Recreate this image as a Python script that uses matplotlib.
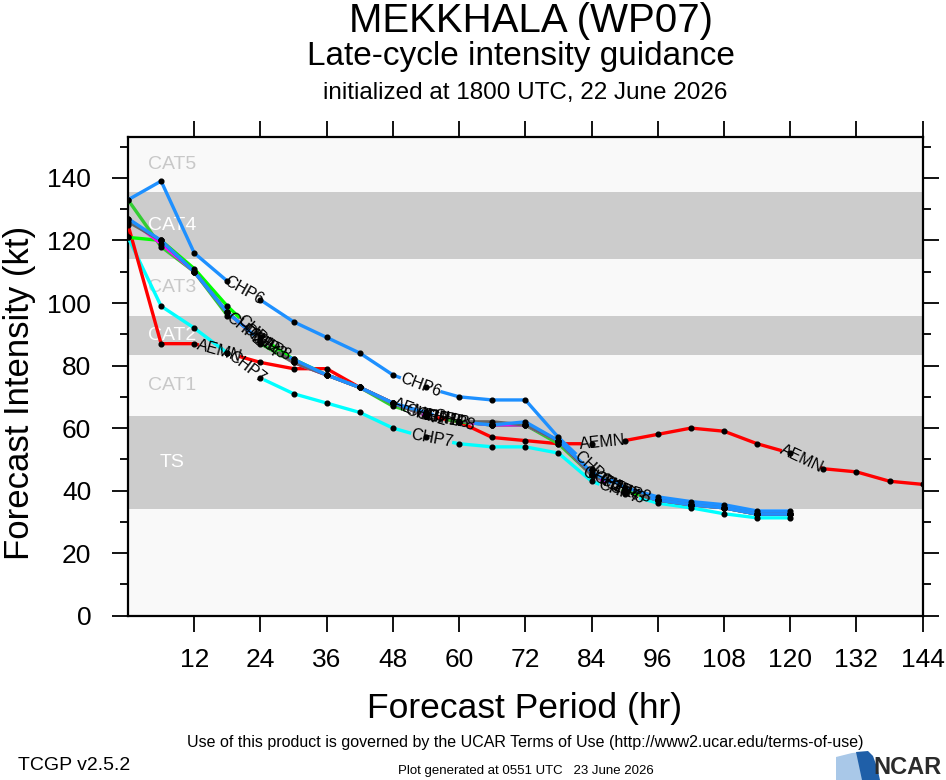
import numpy as np
import matplotlib
matplotlib.use("Agg")
import matplotlib.pyplot as plt
from matplotlib.patches import Polygon

plt.rcParams['font.family'] = ['Liberation Sans', 'DejaVu Sans']

# forecast hours
hours = [0, 6, 12, 18, 24, 30, 36, 42, 48, 54, 60, 66, 72, 78, 84, 90, 96, 102, 108, 114, 120]
hours_aemn = hours + [126, 132, 138, 144]

# intensities (kt)
chp1 = [121, 120, 111, 99, 89, 82, 77, 73, 68, 64, 62, 61, 61, 56, 45, 40, 37, 35.5, 34.5, 32.5, 32.5]
chp2 = [133, 118, 110, 96, 87, 81, 77, 73, 67, 64, 62, 61, 61, 55, 45, 40, 37, 35.5, 34.5, 32.5, 32.5]
chp3 = [127, 119, 110, 97, 88, 81, 77, 73, 68, 64, 62, 61, 61, 56, 45, 40, 37, 35.5, 34.5, 32.5, 32.5]
chp4 = [126, 120, 110, 97, 88, 81, 77, 73, 68, 64, 62, 62, 61, 56, 45, 40, 37, 35.5, 34.5, 32.5, 32.5]
chp8 = [127, 120, 110, 97, 88, 82, 77, 73, 68, 65, 62, 61, 62, 56, 46, 40, 37, 35.5, 34.5, 32.5, 32.5]
chp6 = [133, 139, 116, 107, 101, 94, 89, 84, 77, 73, 70, 69, 69, 57, 47, 41, 38, 36.5, 35.5, 33.5, 33.5]
chp7 = [121, 99, 92, 84, 76, 71, 68, 65, 60, 57, 55, 54, 54, 52, 43, 39, 36, 34.5, 32.6, 31.3, 31.3]
aemn = [125, 87, 87, 84, 81, 79, 79, 73, 68, 64, 62, 57, 56, 55, 55, 56, 58, 60, 59,
        55, 52, 47, 46, 43, 42]

# (name, hours, values, colour, hours where the name is written on the line)
models = [
    ("CHP7", hours, chp7, "#00ffff", [21.5, 55, 89]),
    ("AEMN", hours_aemn, aemn, "#ff0000", [16.5, 52, 86, 122]),
    ("CHP2", hours, chp2, "#33cc33", [21, 54, 86]),
    ("CHP1", hours, chp1, "#00ff00", [23, 56, 88]),
    ("CHP3", hours, chp3, "#ff00ff", [25, 58, 90]),
    ("CHP4", hours, chp4, "#666666", [24, 57, 89]),
    ("CHP8", hours, chp8, "#1e90ff", [26, 59, 91]),
    ("CHP6", hours, chp6, "#1e90ff", [21, 53, 84]),
]

# intensity categories
band_edges = [0, 34, 64, 83.5, 96, 114, 135.5, 153]
band_names = ["", "TS", "CAT1", "CAT2", "CAT3", "CAT4", "CAT5"]

fig = plt.figure(figsize=(9.46, 7.8), dpi=100)
ax = fig.add_axes([128 / 946, 1 - 615.7 / 780, (922.7 - 128) / 946, (615.7 - 137.3) / 780])
ax.set_xlim(0, 144)
ax.set_ylim(0, 153)

for i in range(len(band_names)):
    dark = i % 2 == 1
    ax.axhspan(band_edges[i], band_edges[i + 1], color="#cccccc" if dark else "#f9f9f9",
               lw=0, zorder=0)
    if band_names[i]:
        ax.text(8, (band_edges[i] + band_edges[i + 1]) / 2, band_names[i],
                color="white" if dark else "#c8c8c8", fontsize=14,
                ha="center", va="center", zorder=1)

GAP = 42  # pixels of line left out under each label


def gapped_line(hx, vals, lab_hours):
    # break the polyline (in screen space) where the labels sit
    pts = ax.transData.transform(np.column_stack([hx, vals]))
    seg = np.hypot(*np.diff(pts, axis=0).T)
    s = np.concatenate([[0], np.cumsum(seg)])
    gaps = []
    for h in lab_hours:
        k = int(np.clip(np.searchsorted(hx, h) - 1, 0, len(hx) - 2))
        sc = s[k] + (h - hx[k]) / (hx[k + 1] - hx[k]) * seg[k]
        gaps.append((sc - GAP / 2, sc + GAP / 2))
    cuts = sorted(set(list(s) + [g for pair in gaps for g in pair if 0 < g < s[-1]]))
    xs, ys = [], []
    for a, b in zip(cuts[:-1], cuts[1:]):
        mid = (a + b) / 2
        if any(g0 < mid < g1 for g0, g1 in gaps):
            xs.append(np.nan)
            ys.append(np.nan)
            continue
        for v in (a, b):
            xs.append(np.interp(v, s, pts[:, 0]))
            ys.append(np.interp(v, s, pts[:, 1]))
    out = np.column_stack([xs, ys])
    ok = ~np.isnan(out[:, 0])
    data = np.full_like(out, np.nan)
    data[ok] = ax.transData.inverted().transform(out[ok])
    return data[:, 0], data[:, 1]


for name, hx, vals, col, lab_hours in models:
    gx, gy = gapped_line(hx, vals, lab_hours)
    ax.plot(gx, gy, color=col, lw=2.4, solid_capstyle="butt", zorder=3)
    ax.plot(hx, vals, ls="none", marker="o", ms=3.4, mfc="k", mec="k", zorder=4)

# line labels, rotated along the segment they sit on
for name, hx, vals, col, lab_hours in models:
    pts = ax.transData.transform(np.column_stack([hx, vals]))
    for h in lab_hours:
        k = int(np.clip(np.searchsorted(hx, h) - 1, 0, len(hx) - 2))
        dx, dy = pts[k + 1] - pts[k]
        ang = np.degrees(np.arctan2(dy, dx))
        yv = np.interp(h, hx, vals)
        ax.text(h, yv, name, fontsize=11.5, rotation=ang, rotation_mode="anchor",
                ha="center", va="center", color="k", zorder=5)

ax.set_xticks(range(12, 145, 12))
ax.set_yticks(range(0, 141, 20))
ax.set_yticks(range(10, 151, 20), minor=True)
ax.tick_params(axis="both", which="major", direction="out", length=11.5, width=1.3,
               labelsize=19, top=True, right=True)
ax.tick_params(axis="x", which="major", pad=12)
ax.tick_params(axis="y", which="major", pad=15)
ax.tick_params(axis="y", which="minor", direction="out", length=6, width=1.3, right=True)
for sp in ax.spines.values():
    sp.set_linewidth(1.6)

fig.text(0.561, 1 - 32 / 780, "MEKKHALA (WP07)", fontsize=29, ha="center", va="baseline")
fig.text(0.551, 1 - 65 / 780, "Late-cycle intensity guidance", fontsize=24, ha="center",
         va="baseline")
fig.text(0.555, 1 - 99 / 780, "initialized at 1800 UTC, 22 June 2026", fontsize=17.5,
         ha="center", va="baseline")
fig.text(0.555, 1 - 718 / 780, "Forecast Period (hr)", fontsize=25.5, ha="center",
         va="baseline")
fig.text(20 / 946, 1 - 393 / 780, "Forecast Intensity (kt)", fontsize=25, rotation=90,
         ha="center", va="center")

fig.text(0.555, 1 - 742 / 780,
         "Use of this product is governed by the UCAR Terms of Use (http://www2.ucar.edu/terms-of-use)",
         fontsize=11.5, ha="center", va="center")
fig.text(18 / 946, 1 - 765 / 780, "TCGP v2.5.2", fontsize=14, ha="left", va="center")
fig.text(526 / 946, 1 - 771 / 780, "Plot generated at 0551 UTC   23 June 2026", fontsize=9.5,
         ha="center", va="center")

# NCAR logo: light and dark blue sweep next to the name
light = [[836, 757], [852, 753], [862, 752], [866, 780], [836, 780]]
dark = [[856, 752], [868, 751], [873, 756], [877, 767], [880, 780], [862, 780]]
for shape, c in ((light, "#a9c8e8"), (dark, "#1f5fa8")):
    fig.patches.append(Polygon([[x / 946, 1 - y / 780] for x, y in shape], closed=True,
                               transform=fig.transFigure, color=c, lw=0, zorder=1))
fig.text(941 / 946, 1 - 767 / 780, "NCAR", fontsize=17, fontweight="bold", color="#2b2b2b",
         ha="right", va="center")

fig.savefig("out.png", dpi=100)
